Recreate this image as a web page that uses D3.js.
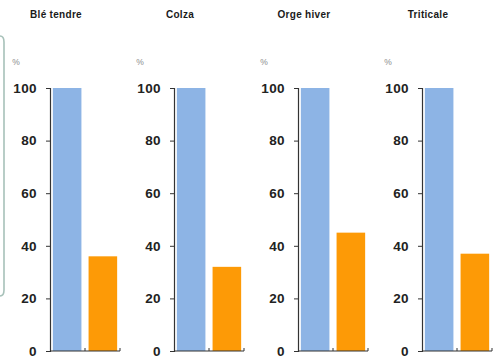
<!DOCTYPE html>
<html>
<head>
<meta charset="utf-8">
<script src="https://cdn.jsdelivr.net/npm/d3@7/dist/d3.min.js"></script>
<style>
  html, body { margin: 0; padding: 0; background: #ffffff; }
  svg { display: block; }
  text { font-family: "Liberation Sans", Arial, sans-serif; }
</style>
</head>
<body>
<svg id="chart" width="494" height="356"></svg>
<script>
// Crops shown in each small panel
const crops = ["Blé tendre", "Colza", "Orge hiver", "Triticale"];
// Two series per crop: reference level (blue) and measured share (orange)
const seriesKeys = ["reference", "mesure"];
const referenceValues = [100, 100, 100, 100];
const measuredValues = [36, 32, 45, 37];
const yTicks = [0, 20, 40, 60, 80, 100];
const unitLabel = "%";

const colors = { reference: "#8db4e5", mesure: "#fd9a06" };

const svg = d3.select("#chart");

// Frame edge on the left side
svg.append("path")
  .attr("d", "M0,36 Q4,36 4,42 L4,290 Q4,296 0,296")
  .attr("fill", "none")
  .attr("stroke", "#a7c1b9")
  .attr("stroke-width", 1.6);

const panelWidth = 124;
const firstAxisX = 50;
const plotW = 70;

const y = d3.scaleLinear().domain([0, 100]).range([351, 88]);

const x = d3.scaleBand().domain(seriesKeys).range([0, plotW])
  .paddingInner(0.2).paddingOuter(0.08);

crops.forEach((crop, i) => {
  const g = svg.append("g").attr("transform", `translate(${firstAxisX + i * panelWidth},0)`);
  const vals = { reference: referenceValues[i], mesure: measuredValues[i] };

  // Crop title
  g.append("text")
    .attr("x", 6).attr("y", 18)
    .attr("text-anchor", "middle")
    .attr("font-size", 10).attr("font-weight", "bold")
    .attr("letter-spacing", 0.3)
    .attr("fill", "#1a1a1a")
    .text(crop);

  // Unit above the axis
  g.append("text")
    .attr("x", -34).attr("y", 65)
    .attr("text-anchor", "middle")
    .attr("font-size", 8.5)
    .attr("fill", "#8a8a8a")
    .text(unitLabel);

  // Bars
  g.selectAll("rect.bar").data(seriesKeys).join("rect")
    .attr("class", "bar")
    .attr("x", d => x(d))
    .attr("width", x.bandwidth())
    .attr("y", d => y(vals[d]))
    .attr("height", d => y(0) - y(vals[d]))
    .attr("fill", d => colors[d]);

  // Value axis
  const yAxis = d3.axisLeft(y).tickValues(yTicks).tickSize(4).tickPadding(9);
  const ya = g.append("g").call(yAxis);
  ya.select(".domain").attr("stroke", "#333").attr("stroke-width", 1.2);
  ya.selectAll(".tick line").attr("stroke", "#333");
  ya.selectAll(".tick text")
    .attr("font-size", 13.5).attr("font-weight", "bold")
    .attr("letter-spacing", 0.4)
    .attr("fill", "#222")
    .attr("font-family", "'Liberation Sans', Arial, sans-serif");

  // Category baseline with small separators
  const xa = g.append("g").attr("transform", `translate(0,${y(0)})`);
  xa.append("line").attr("x1", 0).attr("x2", plotW)
    .attr("stroke", "#333").attr("stroke-width", 1.2);
  xa.selectAll("line.sep").data([plotW / 2, plotW]).join("line")
    .attr("class", "sep")
    .attr("x1", d => d).attr("x2", d => d)
    .attr("y1", 0).attr("y2", -3)
    .attr("stroke", "#333");
});
</script>
</body>
</html>
